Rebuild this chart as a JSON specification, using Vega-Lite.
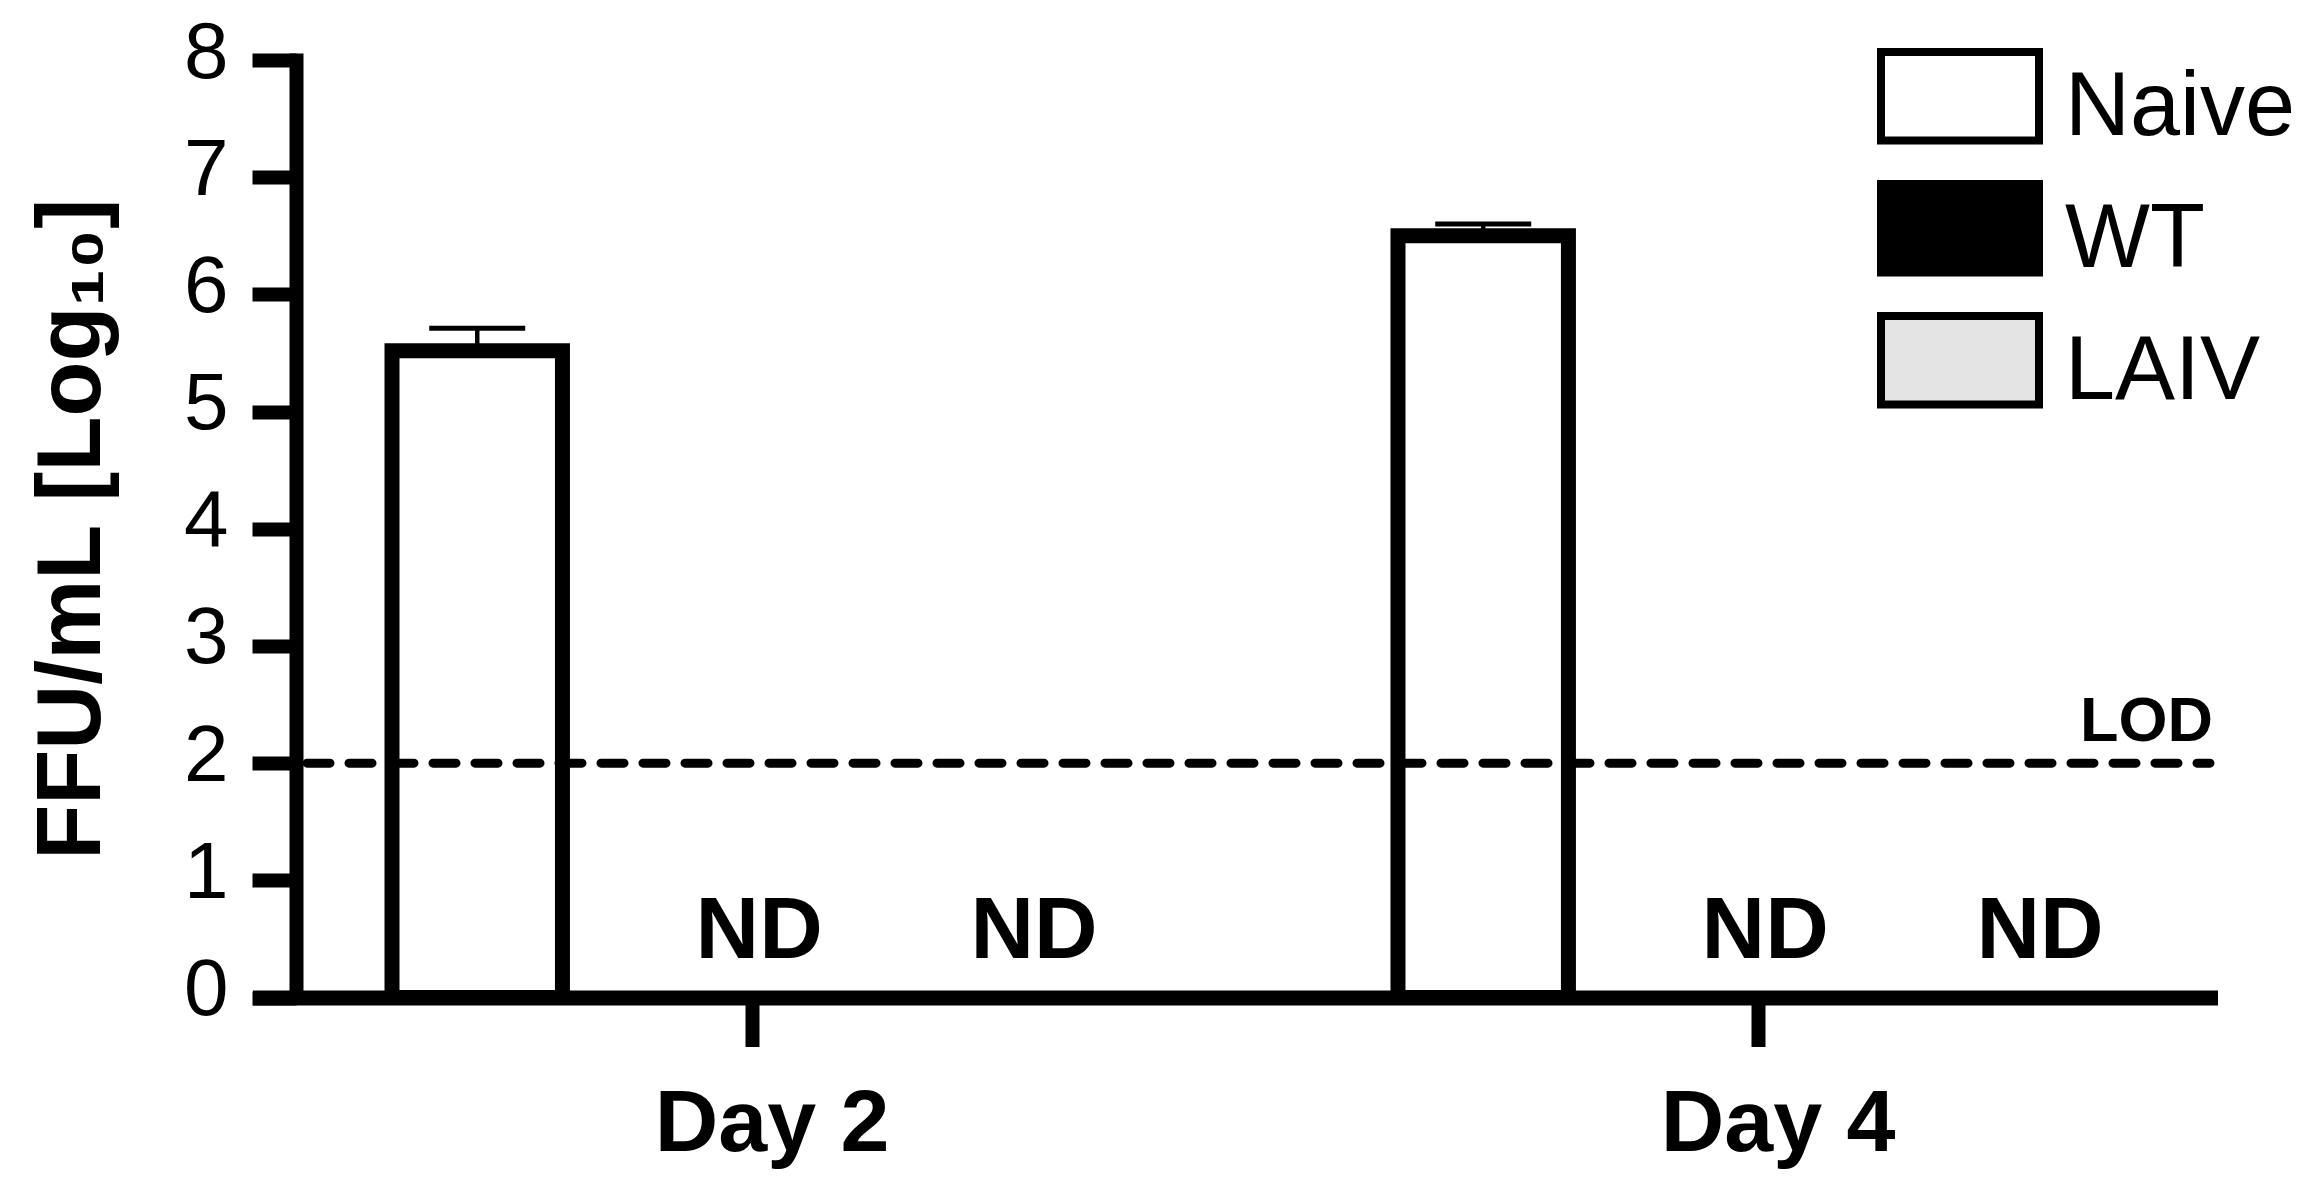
{
  "$schema": "https://vega.github.io/schema/vega-lite/v6.json",
  "autosize": {"type": "none"},
  "width": 1950,
  "height": 937.5,
  "padding": {"left": 260, "top": 60, "right": 97, "bottom": 194.5},
  "background": "white",
  "config": {
    "view": {"stroke": null},
    "font": "Liberation Sans",
    "axis": {"grid": false, "domainColor": "black", "tickColor": "black", "labelColor": "black", "titleColor": "black", "labelFont": "Liberation Sans", "titleFont": "Liberation Sans"}
  },
  "data": {
    "values": [
      {"day": "Day 2", "group": "Naive", "value": 5.52, "upper": 5.71, "label": null},
      {"day": "Day 2", "group": "WT", "value": null, "upper": null, "label": "ND"},
      {"day": "Day 2", "group": "LAIV", "value": null, "upper": null, "label": "ND"},
      {"day": "Day 4", "group": "Naive", "value": 6.50, "upper": 6.60, "label": null},
      {"day": "Day 4", "group": "WT", "value": null, "upper": null, "label": "ND"},
      {"day": "Day 4", "group": "LAIV", "value": null, "upper": null, "label": "ND"}
    ]
  },
  "encoding": {
    "x": {
      "field": "day", "type": "nominal",
      "scale": {"domain": ["Day 2", "Day 4"], "paddingInner": 0.284, "paddingOuter": 0.1112, "align": 0.59},
      "axis": {"title": null, "labelAngle": 0, "labelFontSize": 88, "labelFontWeight": "bold", "labelLimit": 1000, "tickSize": 49, "tickWidth": 14, "domainWidth": 15, "domainCap": "square", "labelPadding": 34, "labelOffset": 20, "zindex": 1}
    },
    "xOffset": {
      "field": "group", "type": "nominal",
      "scale": {"domain": ["Naive", "WT", "LAIV"], "paddingInner": 0.38, "paddingOuter": 0}
    }
  },
  "layer": [
    {
      "transform": [{"filter": "isValid(datum.value)"}],
      "mark": {"type": "rule", "color": "black", "strokeWidth": 4.5},
      "encoding": {
        "y": {"field": "value", "type": "quantitative"},
        "y2": {"field": "upper"}
      }
    },
    {
      "transform": [{"filter": "isValid(datum.value)"}],
      "mark": {"type": "tick", "color": "black", "orient": "horizontal", "size": 96, "thickness": 5, "opacity": 1},
      "encoding": {
        "y": {"field": "upper", "type": "quantitative"}
      }
    },
    {
      "transform": [{"filter": "isValid(datum.value)"}],
      "mark": {"type": "bar", "stroke": "black", "strokeWidth": 15, "strokeJoin": "miter", "opacity": 1},
      "encoding": {
        "y": {
          "field": "value", "type": "quantitative",
          "scale": {"domain": [0, 8], "nice": false, "zero": true},
          "axis": {
            "values": [0, 1, 2, 3, 4, 5, 6, 7, 8],
            "format": "d",
            "title": "FFU/mL [Log₁₀]",
            "titleFontSize": 90, "titleFontWeight": "bold", "titlePadding": 65,
            "labelFontSize": 80, "labelPadding": 24, "labelOffset": -7,
            "tickSize": 44, "tickWidth": 14, "domainWidth": 14, "domainCap": "square",
            "offset": -36, "zindex": 1
          }
        },
        "fill": {
          "field": "group", "type": "nominal",
          "scale": {"domain": ["Naive", "WT", "LAIV"], "range": ["#ffffff", "#000000", "#e4e4e4"]},
          "legend": {
            "orient": "none", "legendX": 1617, "legendY": -35, "title": null,
            "symbolType": "M-1,-0.71H1V0.41H-1Z", "symbolSize": 24964,
            "symbolStrokeColor": "black", "symbolStrokeWidth": 8, "symbolOpacity": 1,
            "labelFontSize": 90, "labelFont": "Liberation Sans", "labelColor": "black", "labelLimit": 1000,
            "labelOffset": 22, "rowPadding": -33, "padding": 0
          }
        }
      }
    },
    {
      "data": {"values": [{"lod": 2}]},
      "mark": {"type": "rule", "color": "black", "strokeWidth": 9, "strokeDash": [23, 19], "strokeDashOffset": 10, "strokeCap": "round"},
      "encoding": {
        "x": null, "xOffset": null,
        "y": {"field": "lod", "type": "quantitative"}
      }
    },
    {
      "transform": [{"filter": "isValid(datum.label)"}],
      "mark": {"type": "text", "font": "Liberation Sans", "fontWeight": "bold", "fontSize": 88, "baseline": "alphabetic", "align": "center", "dy": -40, "dx": 7, "color": "black"},
      "encoding": {
        "y": {"datum": 0, "type": "quantitative"},
        "text": {"field": "label"}
      }
    },
    {
      "data": {"values": [{"t": "LOD"}]},
      "mark": {"type": "text", "font": "Liberation Sans", "fontWeight": "bold", "fontSize": 63, "baseline": "alphabetic", "align": "right", "dy": -22, "dx": 180, "color": "black"},
      "encoding": {
        "x": {"datum": "Day 4"},
        "xOffset": {"datum": "LAIV"},
        "y": {"datum": 2, "type": "quantitative"},
        "text": {"field": "t"}
      }
    }
  ]
}
